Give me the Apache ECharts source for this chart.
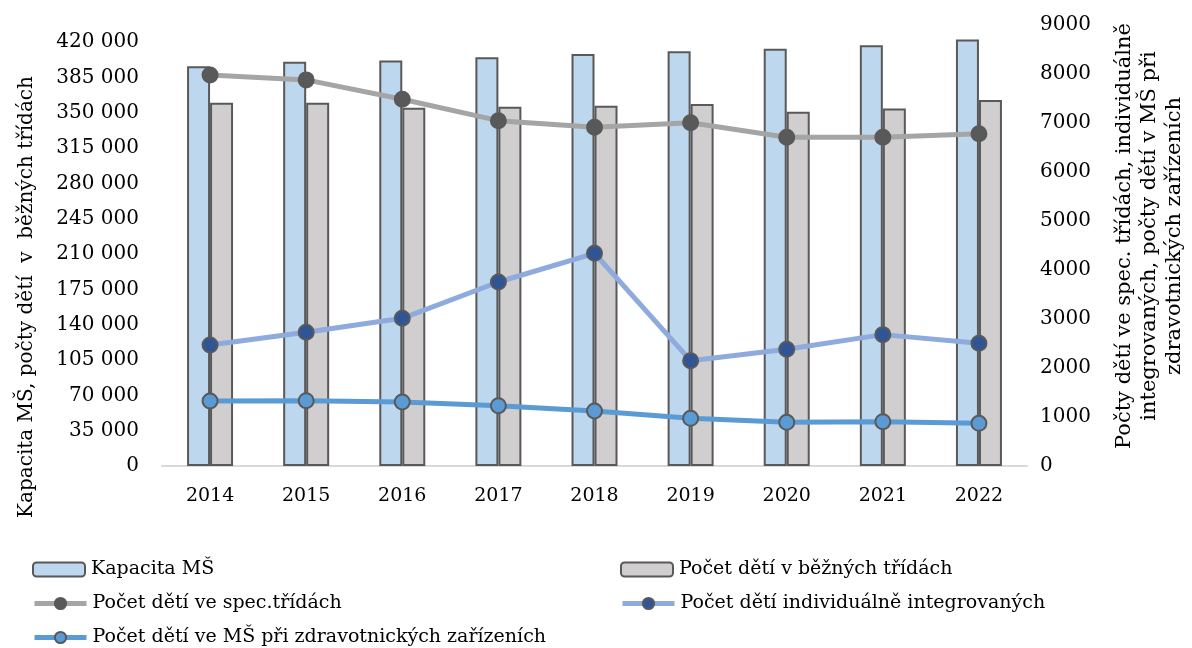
<!DOCTYPE html>
<html>
<head>
<meta charset="utf-8">
<script src="https://cdn.jsdelivr.net/npm/echarts@6/dist/echarts.min.js"></script>
<style>
html,body{margin:0;padding:0;background:#fff;}
#chart{width:1192px;height:648px;}
</style>
</head>
<body>
<div id="chart"></div>
<script>
const years = ['2014','2015','2016','2017','2018','2019','2020','2021','2022'];
const kapacita = [396200, 400500, 401900, 405100, 408300, 411100, 413400, 417000, 422700];
const bezneTridy = [359900, 359900, 354900, 355900, 356900, 358600, 351000, 354300, 362600];
const specTridy = [7980, 7880, 7484, 7048, 6912, 7007, 6708, 6708, 6782];
const integrovani = [2470, 2729, 3014, 3755, 4341, 2150, 2381, 2681, 2504];
const zdravotnicka = [1327, 1333, 1306, 1231, 1123, 973, 891, 905, 871];

const names = {
  kap: 'Kapacita MŠ',
  bez: 'Počet dětí v běžných třídách',
  spec: 'Počet dětí ve spec.třídách',
  integ: 'Počet dětí individuálně integrovaných',
  zdr: 'Počet dětí ve MŠ při zdravotnických zařízeních'
};
const leftTitle = 'Kapacita MŠ, počty dětí  v  běžných třídách';
const rightTitle = 'Počty dětí ve spec. třídách, individuálně\nintegrovaných, počty dětí v MŠ při\nzdravotnických zařízeních';

const FONT = '"DejaVu Serif", serif';
const chart = echarts.init(document.getElementById('chart'));

function fmtLeft(v){
  return String(v).replace(/\B(?=(\d{3})+(?!\d))/g, ' ');
}

const lineSeries = (name, data, lineColor, markerColor) => ({
  name, type: 'line', yAxisIndex: 1, data,
  symbol: 'circle', symbolSize: 15,
  lineStyle: { color: lineColor, width: 5 },
  itemStyle: { color: markerColor, borderColor: '#595959', borderWidth: 2 },
  z: 5
});

const legendItem = (name, left, top) => ({
  left, top, padding: 0,
  itemWidth: 52, itemHeight: 14, itemGap: 0,
  lineStyle: { width: 5 },
  textStyle: { fontFamily: FONT, fontSize: 19, color: '#000', padding: [0, 0, 0, 1] },
  data: [name]
});

chart.setOption({
  animation: false,
  grid: { left: 162, right: 165, top: 25, bottom: 182 },
  legend: [
    legendItem(names.kap, 32, 560),
    legendItem(names.bez, 620, 560),
    legendItem(names.spec, 32, 594),
    legendItem(names.integ, 620, 594),
    legendItem(names.zdr, 32, 628)
  ],
  xAxis: {
    type: 'category', data: years,
    axisLine: { lineStyle: { color: '#d9d9d9', width: 2 } },
    axisTick: { show: false },
    axisLabel: { fontFamily: FONT, fontSize: 19, color: '#000', margin: 21 }
  },
  yAxis: [
    {
      type: 'value', min: 0, max: 437000, interval: 35000,
      splitLine: { show: false },
      axisLine: { show: false }, axisTick: { show: false },
      axisLabel: { fontFamily: FONT, fontSize: 20, color: '#000', margin: 23, showMaxLabel: false, formatter: fmtLeft }
    },
    {
      type: 'value', min: 0, max: 9000, interval: 1000,
      splitLine: { show: false },
      axisLine: { show: false }, axisTick: { show: false },
      axisLabel: { fontFamily: FONT, fontSize: 20, color: '#000', margin: 13, formatter: v => String(v) }
    }
  ],
  series: [
    {
      name: names.kap, type: 'bar', data: kapacita, barWidth: 23, barGap: '0%',
      itemStyle: { color: '#BDD7EE', borderColor: '#595959', borderWidth: 2 }
    },
    {
      name: names.bez, type: 'bar', data: bezneTridy, barWidth: 23,
      itemStyle: { color: '#D0CECE', borderColor: '#595959', borderWidth: 2 }
    },
    lineSeries(names.spec, specTridy, '#A5A5A5', '#595959'),
    lineSeries(names.integ, integrovani, '#8FAADC', '#2F5597'),
    lineSeries(names.zdr, zdravotnicka, '#5B9BD5', '#5B9BD5')
  ],
  graphic: [
    {
      type: 'text', x: 27, y: 297, rotation: Math.PI / 2,
      style: { text: leftTitle, fontFamily: FONT, fontSize: 20, fill: '#000', align: 'center', verticalAlign: 'middle' }
    },
    {
      type: 'text', x: 1150, y: 236, rotation: Math.PI / 2,
      style: { text: rightTitle, fontFamily: FONT, fontSize: 21, lineHeight: 25, fill: '#000', align: 'center', verticalAlign: 'middle' }
    }
  ]
});
</script>
</body>
</html>
